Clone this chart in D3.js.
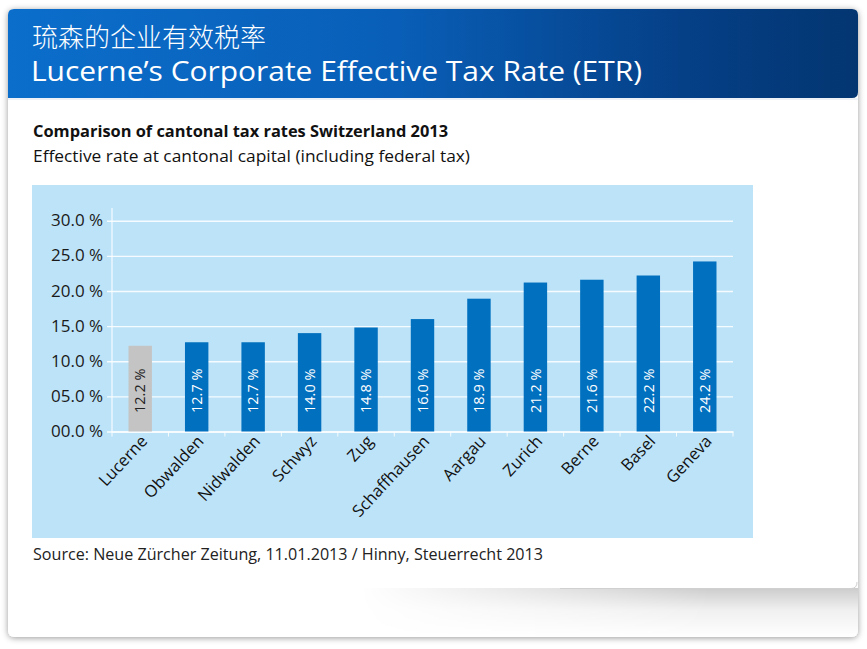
<!DOCTYPE html>
<html>
<head>
<meta charset="utf-8">
<script src="https://cdn.jsdelivr.net/npm/d3@7/dist/d3.min.js"></script>
<style>
  html, body { margin: 0; padding: 0; background: #ffffff; }
  svg { display: block; }
</style>
</head>
<body>
<svg id="chart" width="867" height="649"></svg>
<script>
// ---- data ----
const titleCN = "琉森的企业有效税率";
const titleEN = "Lucerne\u2019s Corporate Effective Tax Rate (ETR)";
const subtitle1 = "Comparison of cantonal tax rates Switzerland 2013";
const subtitle2 = "Effective rate at cantonal capital (including federal tax)";
const sourceText = "Source: Neue Zürcher Zeitung, 11.01.2013 / Hinny, Steuerrecht 2013";
const categories = ["Lucerne", "Obwalden", "Nidwalden", "Schwyz", "Zug", "Schaffhausen", "Aargau", "Zurich", "Berne", "Basel", "Geneva"];
const values = [12.2, 12.7, 12.7, 14.0, 14.8, 16.0, 18.9, 21.2, 21.6, 22.2, 24.2];
const highlight = ["Lucerne"];
const yTicks = [0, 5, 10, 15, 20, 25, 30];

// ---- drawing ----
const svg = d3.select("#chart");
const defs = svg.append("defs");

const sh = defs.append("filter").attr("id", "cardShadow").attr("x", "-5%").attr("y", "-5%").attr("width", "110%").attr("height", "110%");
sh.append("feDropShadow").attr("dx", 0).attr("dy", 1).attr("stdDeviation", 3).attr("flood-color", "#000").attr("flood-opacity", 0.4);

const hg = defs.append("linearGradient").attr("id", "headGrad").attr("x1", "0").attr("x2", "1").attr("y1", "0").attr("y2", "0");
hg.append("stop").attr("offset", "0%").attr("stop-color", "#0b6ecb");
hg.append("stop").attr("offset", "45%").attr("stop-color", "#095fb8");
hg.append("stop").attr("offset", "80%").attr("stop-color", "#053f86");
hg.append("stop").attr("offset", "100%").attr("stop-color", "#033671");

const vg = defs.append("linearGradient").attr("id", "curlV").attr("x1", "0").attr("x2", "0").attr("y1", "0").attr("y2", "1");
vg.append("stop").attr("offset", "0%").attr("stop-color", "#000").attr("stop-opacity", 0.2);
vg.append("stop").attr("offset", "45%").attr("stop-color", "#000").attr("stop-opacity", 0.06);
vg.append("stop").attr("offset", "100%").attr("stop-color", "#000").attr("stop-opacity", 0);
const mg = defs.append("linearGradient").attr("id", "curlH").attr("x1", "0").attr("x2", "1").attr("y1", "0").attr("y2", "0");
mg.append("stop").attr("offset", "0%").attr("stop-color", "#fff").attr("stop-opacity", 0);
mg.append("stop").attr("offset", "70%").attr("stop-color", "#fff").attr("stop-opacity", 1);
mg.append("stop").attr("offset", "100%").attr("stop-color", "#fff").attr("stop-opacity", 1);
const mask = defs.append("mask").attr("id", "curlMask");
mask.append("rect").attr("x", 360).attr("y", 585).attr("width", 500).attr("height", 55).attr("fill", "url(#curlH)");

// card
svg.append("rect").attr("x", 8).attr("y", 9).attr("width", 850).attr("height", 628).attr("rx", 6)
  .attr("fill", "#ffffff").attr("filter", "url(#cardShadow)");

// bottom curl shadow
svg.append("rect").attr("x", 360).attr("y", 588).attr("width", 498).attr("height", 49)
  .attr("fill", "url(#curlV)").attr("mask", "url(#curlMask)");
svg.append("path").attr("d", "M560,588.5 L851,588.5 Q857,588.5 857,582")
  .attr("fill", "none").attr("stroke", "#d0d0d0").attr("stroke-width", 1);

// header
svg.append("path")
  .attr("d", "M8,98 L8,15 Q8,9 14,9 L852,9 Q858,9 858,15 L858,92 Q858,98 852,98 Z")
  .attr("fill", "url(#headGrad)");
svg.append("line").attr("x1", 8).attr("x2", 858).attr("y1", 99).attr("y2", 99).attr("stroke", "#e8eef5").attr("stroke-width", 1.5);

svg.append("text").attr("x", 32).attr("y", 47).text(titleCN)
  .attr("font-family", "'Noto Sans CJK SC', sans-serif").attr("font-size", 26).attr("font-weight", 300).attr("fill", "#ffffff");
svg.append("text").attr("x", 31).attr("y", 81).text(titleEN)
  .attr("font-family", "'Open Sans', sans-serif").attr("font-size", 28).attr("fill", "#ffffff")
  .attr("textLength", 611).attr("lengthAdjust", "spacingAndGlyphs");

// subtitles
svg.append("text").attr("x", 33).attr("y", 137).text(subtitle1)
  .attr("font-family", "'Open Sans', sans-serif").attr("font-size", 16).attr("font-weight", 700).attr("fill", "#111")
  .attr("textLength", 415).attr("lengthAdjust", "spacingAndGlyphs");
svg.append("text").attr("x", 33).attr("y", 162).text(subtitle2)
  .attr("font-family", "'Open Sans', sans-serif").attr("font-size", 16).attr("fill", "#111")
  .attr("textLength", 437).attr("lengthAdjust", "spacingAndGlyphs");

// panel
svg.append("rect").attr("x", 32).attr("y", 185).attr("width", 721).attr("height", 353).attr("fill", "#bde3f8");

// scales
const x = d3.scaleBand().domain(categories).range([112, 733]).paddingInner(0.585).paddingOuter(0.2925);
const y = d3.scaleLinear().domain([0, 30]).range([431.5, 220.7]);

// grid + y axis
const yAxis = d3.axisLeft(y).tickValues(yTicks).tickSize(-(733 - 107)).tickPadding(5)
  .tickFormat(d => d3.format("04.1f")(d) + " %");
const gy = svg.append("g").attr("transform", "translate(107,0)").call(yAxis);
gy.select(".domain").remove();
gy.selectAll(".tick line").attr("stroke", "#ffffff").attr("stroke-opacity", 0.85).attr("stroke-width", 1.4);
gy.selectAll(".tick text").attr("font-family", "'Open Sans', sans-serif").attr("font-size", 16).attr("fill", "#1a1a1a").attr("x", -4)
  .attr("textLength", 52).attr("lengthAdjust", "spacingAndGlyphs");

svg.append("line").attr("x1", 112).attr("x2", 112).attr("y1", 208).attr("y2", 432)
  .attr("stroke", "#ffffff").attr("stroke-opacity", 0.85).attr("stroke-width", 1.2);

// x axis ticks at band boundaries
const xAxis = d3.axisBottom(x).tickSize(0).tickFormat("");
const gx = svg.append("g").attr("transform", "translate(0,431.5)").call(xAxis);
gx.select(".domain").attr("stroke", "#ffffff").attr("stroke-opacity", 0.85).attr("stroke-width", 1.4);
const bounds = categories.map(c => x(c) - x.step() * x.paddingInner() / 2).concat([733]);
gx.selectAll(".bound").data(bounds).join("line").attr("class", "bound")
  .attr("x1", d => d).attr("x2", d => d).attr("y1", 0).attr("y2", 5)
  .attr("stroke", "#ffffff").attr("stroke-opacity", 0.85).attr("stroke-width", 1);

// bars
svg.append("g").selectAll("rect").data(categories).join("rect")
  .attr("x", d => x(d)).attr("width", x.bandwidth())
  .attr("y", (d, i) => y(values[i])).attr("height", (d, i) => y(0) - y(values[i]))
  .attr("fill", d => highlight.includes(d) ? "#c4c4c4" : "#0070bf");

// bar labels
svg.append("g").selectAll("text").data(categories).join("text")
  .attr("transform", d => `translate(${x(d) + x.bandwidth() / 2},413) rotate(-90)`)
  .attr("dy", "0.36em").attr("text-anchor", "start")
  .attr("font-family", "'Open Sans', sans-serif").attr("font-size", 14.5)
  .attr("fill", d => highlight.includes(d) ? "#222" : "#ffffff")
  .text((d, i) => d3.format(".1f")(values[i]) + " %");

// category labels
svg.append("g").selectAll("text").data(categories).join("text")
  .attr("transform", d => `translate(${x(d) + x.bandwidth() / 2 + 8},442) rotate(-47)`)
  .attr("text-anchor", "end")
  .attr("font-family", "'Open Sans', sans-serif").attr("font-size", 16.5).attr("fill", "#111")
  .text(d => d);

// source
svg.append("text").attr("x", 33).attr("y", 560).text(sourceText)
  .attr("font-family", "'Open Sans', sans-serif").attr("font-size", 16).attr("fill", "#222")
  .attr("textLength", 510).attr("lengthAdjust", "spacingAndGlyphs");
</script>
</body>
</html>
